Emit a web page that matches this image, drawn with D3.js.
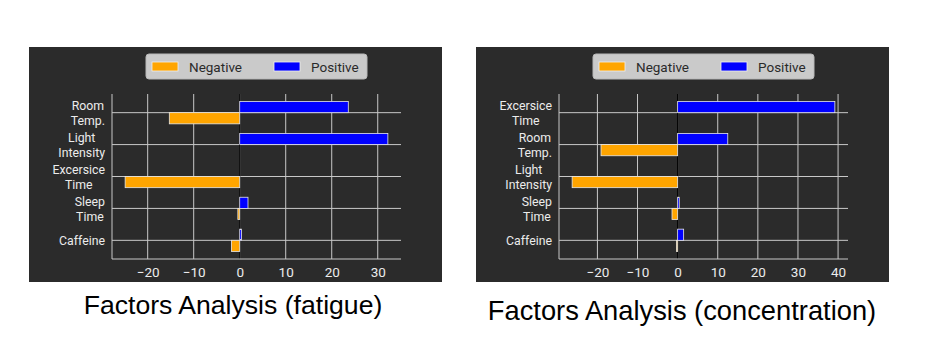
<!DOCTYPE html>
<html>
<head>
<meta charset="utf-8">
<script src="https://cdn.jsdelivr.net/npm/d3@7"></script>
<style>
  body { margin: 0; background: #fff; }
  svg { display: block; }
</style>
</head>
<body>
<div id="chart"></div>
<script>
// Data (top category first)
const fatigueCats = ['Room\nTemp.', 'Light\nIntensity', 'Excersice\nTime', 'Sleep\nTime', 'Caffeine'];
const fatigueNeg = [-15.3, 0, -24.9, -0.4, -1.8];
const fatiguePos = [23.6, 32.2, 0, 1.8, 0.4];
const fatigueTicks = [-20, -10, 0, 10, 20, 30];

const concCats = ['Excersice\nTime', 'Room\nTemp.', 'Light\nIntensity', 'Sleep\nTime', 'Caffeine'];
const concNeg = [0, -19.1, -26.3, -1.4, -0.3];
const concPos = [39.2, 12.5, 0, 0.4, 1.5];
const concTicks = [-20, -10, 0, 10, 20, 30, 40];

const legendLabels = ['Negative', 'Positive'];
const titles = ['Factors Analysis (fatigue)', 'Factors Analysis (concentration)'];

//Layout
const panelW = 413, panelH = 235;
const margin = { top: 47, left: 83, right: 41 };
const width = panelW - margin.left - margin.right;
const height = 165;
const barH = 0.35;
const colors = { neg: '#ffa500', pos: '#0000ff', bg: '#2b2b2b', grid: '#c8c8c8', text: '#ececec' };
const font = 'Roboto, "Noto Sans", sans-serif';

const svg = d3.select('#chart').append('svg')
  .attr('width', 927)
  .attr('height', 363);

const drawPanel = function (px, py, cats, neg, pos, ticks) {
  const panel = svg.append('g').attr('transform', `translate(${px}, ${py})`);

  panel.append('rect')
    .attr('width', panelW)
    .attr('height', panelH)
    .attr('fill', colors.bg);

  // Scales, 5% padding like matplotlib
  const xMin = d3.min(neg), xMax = d3.max(pos);
  const xPad = (xMax - xMin) * 0.05;
  const xScale = d3.scaleLinear()
    .domain([xMin - xPad, xMax + xPad])
    .range([0, width]);

  const n = cats.length;
  const yPad = (n - 1 + 2 * barH) * 0.05;
  const yScale = d3.scaleLinear()
    .domain([-barH - yPad, n - 1 + barH + yPad])
    .range([0, height]);

  const g = panel.append('g')
    .attr('transform', `translate(${margin.left}, ${margin.top})`);

  // Grid
  g.selectAll('.vgrid').data(ticks).enter().append('line')
    .attr('x1', d => xScale(d)).attr('x2', d => xScale(d))
    .attr('y1', 0).attr('y2', height)
    .attr('stroke', colors.grid).attr('stroke-width', 1);

  g.selectAll('.hgrid').data(cats).enter().append('line')
    .attr('x1', 0).attr('x2', width)
    .attr('y1', (d, i) => yScale(i)).attr('y2', (d, i) => yScale(i))
    .attr('stroke', colors.grid).attr('stroke-width', 1);

  // zero line
  g.append('line')
    .attr('x1', xScale(0)).attr('x2', xScale(0))
    .attr('y1', 0).attr('y2', height)
    .attr('stroke', '#000').attr('stroke-width', 1.2);

  // Bars: positive above the tick, negative below
  g.selectAll('.pos').data(pos).enter().append('rect')
    .attr('x', xScale(0))
    .attr('y', (d, i) => yScale(i - barH))
    .attr('width', d => xScale(d) - xScale(0))
    .attr('height', yScale(barH) - yScale(0))
    .attr('fill', colors.pos)
    .attr('stroke', '#e8e8e8').attr('stroke-width', 0.8);

  g.selectAll('.neg').data(neg).enter().append('rect')
    .attr('x', d => xScale(d))
    .attr('y', (d, i) => yScale(i))
    .attr('width', d => xScale(0) - xScale(d))
    .attr('height', yScale(barH) - yScale(0))
    .attr('fill', colors.neg)
    .attr('stroke', '#e8e8e8').attr('stroke-width', 0.8);

  // Spines
  g.append('line')
    .attr('x1', 0).attr('x2', 0).attr('y1', 0).attr('y2', height)
    .attr('stroke', colors.grid).attr('stroke-width', 1);
  g.append('line')
    .attr('x1', 0).attr('x2', width).attr('y1', height).attr('y2', height)
    .attr('stroke', colors.grid).attr('stroke-width', 1);

  // x tick labels
  const xAxis = d3.axisBottom(xScale).tickValues(ticks).tickSize(0).tickPadding(0);
  const xg = g.append('g')
    .attr('transform', `translate(0, ${height})`)
    .call(xAxis);
  xg.select('.domain').remove();
  xg.selectAll('text')
    .attr('y', 17.5).attr('dy', null)
    .attr('fill', colors.text)
    .style('font-family', font)
    .style('font-size', '13.5px');

  // y labels, lines centred, block right-aligned
  cats.forEach(function (c, i) {
    const lines = c.split('\n');
    const lh = 14.4;
    const t = g.append('text')
      .attr('fill', colors.text)
      .style('font-family', font)
      .style('font-size', '12.3px')
      .attr('text-anchor', 'middle');
    const spans = lines.map(function (l, k) {
      return t.append('tspan')
        .attr('y', yScale(i) + 4.4 + (k - (lines.length - 1) / 2) * lh + (lines.length > 1 ? 0.5 : 0))
        .text(l);
    });
    const maxW = d3.max(spans, s => s.node().getComputedTextLength());
    spans.forEach(s => s.attr('x', -7 - maxW / 2));
  });

  // Legend
  const legW = 221, legH = 25;
  const leg = panel.append('g')
    .attr('transform', `translate(${margin.left + width / 2 - legW / 2}, 7)`);
  leg.append('rect')
    .attr('width', legW).attr('height', legH)
    .attr('rx', 3)
    .attr('fill', '#cacaca')
    .attr('stroke', '#b8b8b8');
  [colors.neg, colors.pos].forEach(function (col, k) {
    const ox = 6 + k * 122;
    leg.append('rect')
      .attr('x', ox).attr('y', 8)
      .attr('width', 26).attr('height', 9)
      .attr('fill', col)
      .attr('stroke', '#f0f0f0').attr('stroke-width', 0.8);
    leg.append('text')
      .attr('x', ox + 37).attr('y', 17.5)
      .attr('fill', '#2a2a2a')
      .style('font-family', font)
      .style('font-size', '13.5px')
      .text(legendLabels[k]);
  });
};

drawPanel(29, 47, fatigueCats, fatigueNeg, fatiguePos, fatigueTicks);
drawPanel(476, 47, concCats, concNeg, concPos, concTicks);

// Captions under the panels
svg.append('text')
  .attr('x', 233).attr('y', 314)
  .attr('text-anchor', 'middle')
  .style('font-family', '"Liberation Sans", Arial, sans-serif')
  .style('font-size', '26.6px')
  .attr('fill', '#000')
  .text(titles[0]);

svg.append('text')
  .attr('x', 682).attr('y', 320)
  .attr('text-anchor', 'middle')
  .style('font-family', '"Liberation Sans", Arial, sans-serif')
  .style('font-size', '27.3px')
  .attr('fill', '#000')
  .text(titles[1]);
</script>
</body>
</html>
